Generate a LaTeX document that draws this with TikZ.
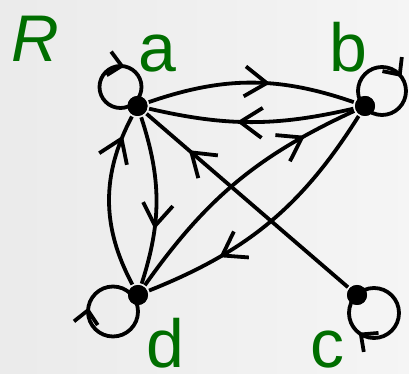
\documentclass[tikz,border=0pt]{standalone}
\usepackage{fontspec}
\setmainfont{Liberation Sans}
\usetikzlibrary{arrows.meta}
\usetikzlibrary{decorations.markings}
\usetikzlibrary{positioning}
\definecolor{lblgreen}{RGB}{0,110,0}

\begin{document}
\begin{tikzpicture}[%
  x=1pt, y=1pt, line width=3.8pt,
  vertex/.style={circle,fill=black,minimum size=20pt,inner sep=0pt},
  lbl/.style={text=lblgreen,font=\fontsize{68}{78}\selectfont,inner sep=0pt,anchor=base},
  edgearr/.style={draw=black,postaction={decorate},
    decoration={markings,mark=at position #1 with {\arrow{Straight Barb[length=22pt,width=30pt]}}}},
  loopy/.style={draw=black,postaction={decorate},
    decoration={markings,mark=at position #1 with {\arrowreversed{Straight Barb[length=13pt,width=24pt]}}}}
  ]
  % background
  \fill[left color=black!8, right color=black!4] (0,0) rectangle (409,374);
  \useasboundingbox (0,0) rectangle (409,374);

  % the four elements
  \node[vertex] (a) at (137.5,268) {};
  \node[vertex] (b) at (365,268) {};
  \node[vertex] (c) at (357,79) {};
  \node[vertex] (d) at (138,79) {};

  % pairs of the relation
  \draw[edgearr=0.59] (a) to[bend left=19] (b);
  \draw[edgearr=0.57] (b) to[bend left=13] (a);
  \draw[edgearr=0.67] (a) to[bend left=18] (d);
  \draw[edgearr=0.88] (d) to[bend left=28] (a);
  \draw[edgearr=0.80] (d) to[bend left=15] (b);
  \draw[edgearr=0.72] (b) to[bend left=18] (d);
  \draw[edgearr=0.79] (c) -- (a);

  % reflexive pairs
  \draw[loopy=0.22] ([shift={(-17,19)}]a.center) circle[radius=21];
  \draw[loopy=0.10] ([shift={(17,15)}]b.center) circle[radius=24];
  \draw[loopy=0.645] ([shift={(17,-18)}]c.center) circle[radius=25];
  \draw[loopy=0.475] ([shift={(-25,-16.5)}]d.center) circle[radius=25];

  % dots on top
  \foreach \name in {a,b,c,d}
  \fill (\name) circle[radius=10];

  % names
  \node[lbl] (la) at (157.5,302) {a};
  \node[lbl] (lb) at (348.5,302) {b};
  \node[lbl] (lc) at (327.5,6) {c};
  \node[lbl] (ld) at (165,6) {d};
  \node[lbl,font=\fontsize{66}{76}\selectfont\itshape] (lr) at (35,312) {R};
\end{tikzpicture}
\end{document}
